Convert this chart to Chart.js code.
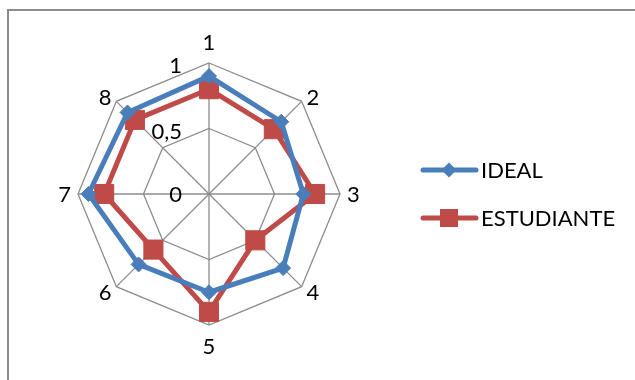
<!DOCTYPE html>
<html>
<head>
<meta charset="utf-8">
<script src="https://cdn.jsdelivr.net/npm/chart.js@4/dist/chart.umd.min.js"></script>
<style>
  html, body { margin: 0; padding: 0; background: #fff; }
  #wrap { position: relative; width: 635px; height: 380px; overflow: hidden; }
  #frame { position: absolute; left: 7px; top: 9px; width: 700px; height: 450px;
           border-left: 2px solid #8c8c8c; border-top: 2px solid #8c8c8c; box-sizing: border-box; }
  #c { position: absolute; left: 0; top: 0; }
</style>
</head>
<body>
<div id="wrap">
  <div id="frame"></div>
  <canvas id="c" width="635" height="380"></canvas>
</div>
<script>
// Axis categories and the two profiles
const categories = ['1', '2', '3', '4', '5', '6', '7', '8'];
const idealValues = [0.9, 0.78, 0.72, 0.8, 0.75, 0.76, 0.92, 0.88];
const studentValues = [0.8, 0.7, 0.81, 0.5, 0.9, 0.6, 0.8, 0.8];
const tickValues = [0, 0.5, 1];
const tickText = ['0', '0,5', '1'];
const seriesNames = ['IDEAL', 'ESTUDIANTE'];

const BLUE = '#4a7ebb';
const RED = '#be4b48';
const FONT = '22px Lato, "Open Sans", sans-serif';
const CENTER = { x: 209, y: 194, r: 131 };

// Axis numbers, tick values and legend drawn alongside the radar
const decorations = {
  id: 'decorations',
  afterDraw(chart) {
    const ctx = chart.ctx;
    const s = chart.scales.r;
    ctx.save();
    ctx.font = FONT;
    ctx.fillStyle = '#000';
    ctx.textBaseline = 'middle';

    // category labels around the outer ring
    categories.forEach((label, i) => {
      const p = s.getPointPosition(i, s.drawingArea + 7);
      const a = p.angle;
      const w = ctx.measureText(label).width;
      const h = 28;
      const c = Math.cos(a), sn = Math.sin(a);
      let x = p.x, y = p.y;
      if (Math.abs(c) > 0.1) x += Math.sign(c) * w / 2;
      if (Math.abs(sn) > 0.9) y += Math.sign(sn) * h / 2;
      ctx.textAlign = 'center';
      ctx.fillText(label, x, y + 1);
    });

    // value labels along the vertical axis
    ctx.textAlign = 'right';
    tickValues.forEach((v, i) => {
      const d = s.getDistanceFromCenterForValue(v);
      ctx.fillText(tickText[i], s.xCenter - 27, s.yCenter - d + 1 + (v > 0 ? 2 : 0));
    });

    // legend
    const items = chart.data.datasets.map((ds, i) => ({ ds, name: seriesNames[i] }));
    const ys = [170, 218];
    items.forEach((it, i) => {
      const y = ys[i];
      ctx.strokeStyle = it.ds.borderColor;
      ctx.lineWidth = 5;
      ctx.lineCap = 'round';
      ctx.beginPath();
      ctx.moveTo(423, y);
      ctx.lineTo(476, y);
      ctx.stroke();
      ctx.fillStyle = it.ds.pointBackgroundColor;
      ctx.beginPath();
      if (it.ds.pointStyle === 'rectRot') {
        const r = 7.5;
        ctx.moveTo(449, y - r); ctx.lineTo(449 + r, y);
        ctx.lineTo(449, y + r); ctx.lineTo(449 - r, y);
        ctx.closePath();
      } else {
        ctx.rect(440, y - 9, 18, 18);
      }
      ctx.fill();
      ctx.fillStyle = '#000';
      ctx.textAlign = 'left';
      ctx.fillText(it.name, 481, y + 1);
    });
    ctx.restore();
  }
};

new Chart(document.getElementById('c'), {
  type: 'radar',
  data: {
    labels: categories,
    datasets: [
      {
        label: seriesNames[0],
        data: idealValues,
        borderColor: BLUE,
        backgroundColor: 'rgba(0,0,0,0)',
        fill: false,
        borderWidth: 5,
        pointStyle: 'rectRot',
        pointRadius: 7.5,
        pointBackgroundColor: BLUE,
        pointBorderColor: BLUE,
        pointBorderWidth: 1
      },
      {
        label: seriesNames[1],
        data: studentValues,
        borderColor: RED,
        backgroundColor: 'rgba(0,0,0,0)',
        fill: false,
        borderWidth: 5,
        pointStyle: 'rect',
        pointRadius: 13.5,
        pointBackgroundColor: RED,
        pointBorderColor: RED,
        pointBorderWidth: 1
      }
    ]
  },
  options: {
    responsive: false,
    animation: false,
    devicePixelRatio: 1,
    plugins: { legend: { display: false }, tooltip: { enabled: false } },
    elements: { line: { tension: 0, borderJoinStyle: 'round' } },
    scales: {
      r: {
        min: 0,
        max: 1,
        ticks: { stepSize: 0.5, display: false },
        grid: { color: '#8c8c8c', lineWidth: 1.3 },
        angleLines: { color: '#8c8c8c', lineWidth: 1.3 },
        pointLabels: { display: false },
        afterFit(scale) {
          scale.xCenter = CENTER.x;
          scale.yCenter = CENTER.y;
          scale.drawingArea = CENTER.r;
        }
      }
    }
  },
  plugins: [decorations]
});
</script>
</body>
</html>
